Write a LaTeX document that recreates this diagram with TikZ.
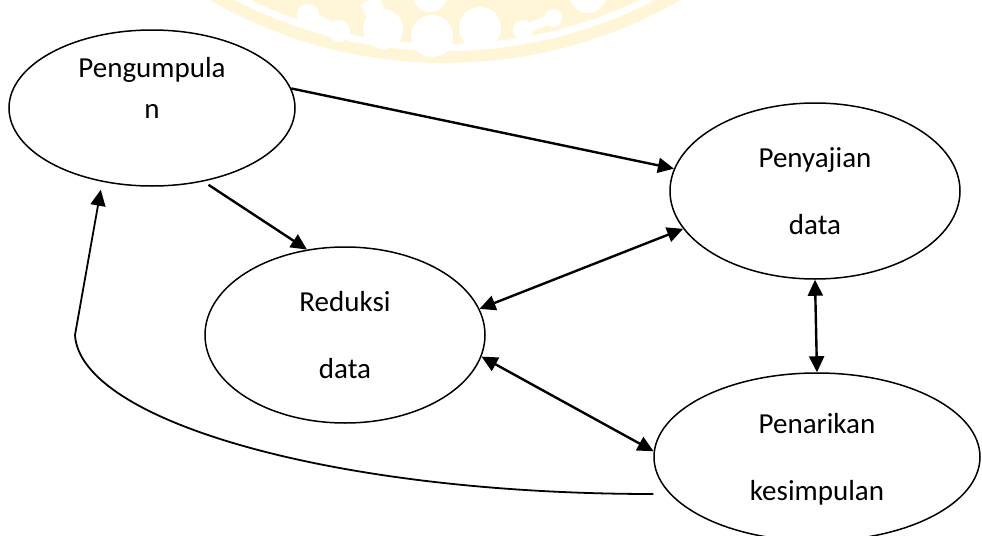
\documentclass[tikz,border=0pt]{standalone}
\usepackage{fontspec}
\setmainfont{Carlito}
\usepackage{tikz}
\usetikzlibrary{shapes,arrows.meta,positioning}
\definecolor{emblem}{RGB}{255,246,216}

\begin{document}
\begin{tikzpicture}[
    x=0.5pt, y=-0.5pt,
    >={Triangle[length=8pt,width=7.5pt]},
    stage/.style={draw, ellipse, line width=0.75pt, inner sep=0pt, align=center,
        font=\fontsize{14.5pt}{33.5pt}\selectfont},
    flow/.style={->, line width=1.2pt},
    both/.style={<->, line width=1.2pt}
]
    \useasboundingbox (0,0) rectangle (982,536);

    % Emblem behind the chart
    \begin{scope}
        \clip (0,0) rectangle (982,536);
        \fill[emblem, even odd rule] (445,-407) circle[radius=235pt] circle[radius=229pt];
        \fill[emblem, even odd rule] (445,-407) circle[radius=225.5pt] circle[radius=200pt];
        \fill[white] (308,15) circle[radius=5.5pt] (339,31) circle[radius=5.5pt];
        \draw[white, line width=5pt] (308,15) -- (339,31);
        \fill[white] (383,29) circle[radius=10pt];
        \draw[white, line width=10pt] (379,20) -- (369,0);
        \fill[white] (432,36) circle[radius=10.5pt];
        \fill[white] (430,-5) circle[radius=8.5pt];
        \fill[white] (480,28) circle[radius=10.5pt];
        \fill[white] (523,30) circle[radius=5pt] (553,18) circle[radius=4.5pt];
        \draw[white, line width=4.5pt] (523,30) -- (553,18);
        \fill[white] (588,-5) circle[radius=9pt];
    \end{scope}

    % Stages
    \node[stage, minimum width=143pt, minimum height=78pt,
        font=\fontsize{14.5pt}{20.5pt}\selectfont] (peng) at (152,108)
        {Pengumpula\\ n\\ \mbox{}};
    \node[stage, minimum width=145pt, minimum height=88pt] (saji) at (815,191)
        {Penyajian\\ data};
    \node[stage, minimum width=140pt, minimum height=88pt] (reduksi) at (345,335)
        {Reduksi\\ data};
    \node[stage, minimum width=163pt, minimum height=84pt, text depth=0pt] (tarik) at (817,457)
        {Penarikan\\ kesimpulan};

    % Arrows between stages
    \draw[flow] (peng.8) -- (saji.171);
    \draw[flow, shorten <=3pt] (peng.-55) -- (reduksi.114);
    \draw[both] (reduksi.11) -- (saji.196);
    \draw[both] (reduksi.-9) -- (tarik.178);
    \draw[both] (saji.south) -- (tarik.north);

    % Loop back to the first stage
    \coordinate (bend) at (75,335);
    \draw[->, line width=0.9pt, shorten >=4pt] ([yshift=-18.5pt]tarik.west)
        .. controls (330,494) and (80,420) .. (bend) -- (peng.236);
\end{tikzpicture}
\end{document}
